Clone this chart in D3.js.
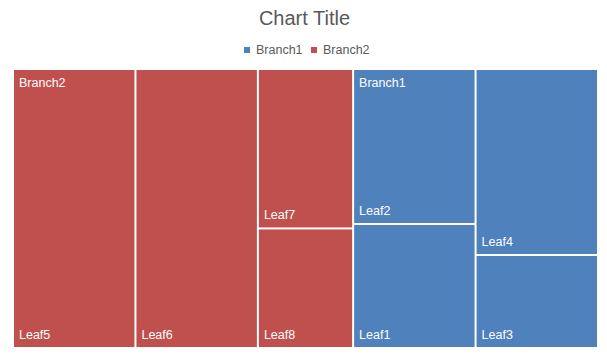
<!DOCTYPE html>
<html>
<head>
<meta charset="utf-8">
<script src="https://cdn.jsdelivr.net/npm/d3@7"></script>
<style>
  html, body { margin: 0; padding: 0; background: #fff; }
  svg { display: block; font-family: "Liberation Sans", Arial, sans-serif; }
</style>
</head>
<body>
<svg id="chart" width="607" height="360"></svg>
<script>
// ---- data ----
const chartTitle = "Chart Title";
const branchNames = ["Branch2", "Branch1"];          // drawing order (left to right)
const legendNames = ["Branch1", "Branch2"];          // legend order
const branchColors = ["#C0504D", "#4F81BD"];         // colours for branchNames
const leafNames  = ["Leaf5", "Leaf6", "Leaf7", "Leaf8", "Leaf2", "Leaf1", "Leaf4", "Leaf3"];
const leafValues = [9, 9, 4, 3, 5, 4, 6, 3];
const leafBranch = ["Branch2", "Branch2", "Branch2", "Branch2", "Branch1", "Branch1", "Branch1", "Branch1"];
const leafColumn = [0, 1, 2, 2, 0, 0, 1, 1];          // column group within branch

// ---- hierarchy ----
const rootData = {
  name: "root",
  children: branchNames.map(b => {
    const idx = leafNames.map((_, i) => i).filter(i => leafBranch[i] === b);
    const cols = Array.from(new Set(idx.map(i => leafColumn[i])));
    return {
      name: b,
      children: cols.map(c => ({
        name: b + "-col" + c,
        children: idx.filter(i => leafColumn[i] === c).map(i => ({ name: leafNames[i], value: leafValues[i], branch: b }))
      }))
    };
  })
};

const svg = d3.select("#chart");
const W = 607;
const color = d3.scaleOrdinal().domain(branchNames).range(branchColors);

// Title
svg.append("text")
  .attr("x", W / 2 + 1).attr("y", 25)
  .attr("text-anchor", "middle")
  .attr("font-size", "20px")
  .attr("fill", "#595959")
  .text(chartTitle);

// Legend
const legendItemWidths = [67, 60];
const legend = svg.append("g").attr("transform", "translate(244,0)");
let lx = 0;
legendNames.forEach((n, i) => {
  const g = legend.append("g").attr("transform", `translate(${lx},0)`);
  g.append("rect").attr("x", 0).attr("y", 47).attr("width", 6).attr("height", 6).attr("fill", color(n));
  g.append("text").attr("x", 12).attr("y", 53.5).attr("font-size", "12.5px").attr("fill", "#595959").text(n);
  lx += legendItemWidths[i];
});

// Treemap
const x0 = 14, y0 = 70, x1 = 597, y1 = 347;
const root = d3.hierarchy(rootData).sum(d => d.value || 0);
d3.treemap()
  .size([x1 - x0, y1 - y0])
  .paddingInner(2)
  .round(false)
  .tile((node, a, b, c, d) => {
    if (node.depth === 2) d3.treemapSlice(node, a, b, c, d);
    else d3.treemapDice(node, a, b, c, d);
  })(root);

const plot = svg.append("g").attr("transform", `translate(${x0},${y0})`);
const leaves = root.leaves();

plot.selectAll("rect.leaf").data(leaves).join("rect")
  .attr("class", "leaf")
  .attr("x", d => d.x0).attr("y", d => d.y0)
  .attr("width", d => d.x1 - d.x0).attr("height", d => d.y1 - d.y0)
  .attr("fill", d => color(d.data.branch));

plot.selectAll("text.leaf").data(leaves).join("text")
  .attr("class", "leaf")
  .attr("x", d => d.x0 + 5).attr("y", d => d.y1 - 8)
  .attr("font-size", "12.5px").attr("fill", "#fff")
  .text(d => d.data.name);

plot.selectAll("text.branch").data(root.children).join("text")
  .attr("class", "branch")
  .attr("x", d => d.x0 + 5).attr("y", d => d.y0 + 17)
  .attr("font-size", "12.5px").attr("fill", "#fff")
  .text(d => d.data.name);
</script>
</body>
</html>
